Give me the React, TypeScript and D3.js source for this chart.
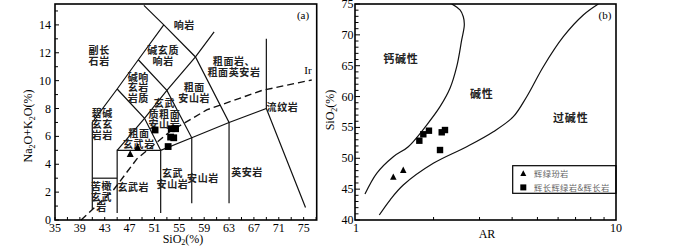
import React from "react";
import * as d3 from "d3";

// ---------- Panel (a): TAS diagram ----------
const tasXTicks = [35, 39, 43, 47, 51, 55, 59, 63, 67, 71, 75];
const tasYTicks = [0, 2, 4, 6, 8, 10, 12, 14];

// boundary polylines [SiO2, Na2O+K2O]
const tasBoundaries: [number, number][][] = [
  [[49.3, 15.4], [52.5, 14], [57.6, 11.7], [63, 7], [63, 1.2]],
  [[60.6, 13.5], [57.6, 11.7], [53, 9.3], [49.4, 7.3], [45, 5]],
  [[52.5, 14], [48.4, 11.5], [45, 9.4], [41, 7], [41, 0.75]],
  [[48.4, 11.5], [53, 9.3], [57, 5.9], [57, 1.2]],
  [[45, 9.4], [49.4, 7.3], [52, 5], [52, 0.5]],
  [[41, 3], [45, 3]],
  [[45, 0.5], [45, 5], [52, 5], [57, 5.9], [63, 7], [69, 8], [75.3, 0.9]],
  [[69, 8], [69, 13]],
];

const irvineLine: [number, number][] = [
  [39.2, 0], [44.4, 2.15], [48.2, 4.4], [53.5, 6.35], [59.4, 7.9], [68.3, 9.3], [76.3, 10.05],
];

const tasLabels: { text: string[]; x: number; y: number }[] = [
  { text: ["响岩"], x: 55.8, y: 13.98 },
  { text: ["副长", "石岩"], x: 42.1, y: 11.8 },
  { text: ["碱玄质", "响岩"], x: 52.4, y: 11.8 },
  { text: ["粗面岩、", "粗面英安岩"], x: 63.8, y: 10.98 },
  { text: ["碱响", "玄岩", "岩质"], x: 48.4, y: 9.5 },
  { text: ["粗面", "安山岩"], x: 57.4, y: 9.1 },
  { text: ["玄武", "质粗面", "安山岩"], x: 52.6, y: 7.6 },
  { text: ["碧碱", "玄玄", "岩岩"], x: 42.6, y: 6.85 },
  { text: ["流纹岩"], x: 71.6, y: 8.1 },
  { text: ["粗面", "玄武岩"], x: 48.5, y: 5.8 },
  { text: ["玄武岩"], x: 47.6, y: 2.35 },
  { text: ["玄武", "安山岩"], x: 53.9, y: 2.95 },
  { text: ["安山岩"], x: 58.8, y: 3.0 },
  { text: ["英安岩"], x: 65.9, y: 3.4 },
  { text: ["苦橄", "玄武", "岩"], x: 42.5, y: 1.65 },
];

const tasTriangles: [number, number][] = [[47.1, 4.75], [48.3, 5.22]];
const tasSquares: [number, number][] = [
  [51.1, 6.46], [53.2, 5.27], [53.6, 5.95], [54.1, 5.9], [53.7, 6.55], [54.4, 6.55],
];

// ---------- Panel (b): SiO2 vs AR ----------
const arYTicks = [40, 45, 50, 55, 60, 65, 70, 75];
const arCalcAlkLine: [number, number][] = [
  [1.092, 44.2], [1.211, 47.57], [1.402, 50.26], [1.6, 51.88], [1.882, 55.39], [2.117, 58.36],
  [2.312, 61.34], [2.453, 64.84], [2.563, 69.17], [2.623, 71.6], [2.6, 72.94], [2.525, 74.03],
  [2.347, 75.0],
];
const arPeralkLine: [number, number][] = [
  [1.239, 40.81], [1.362, 43.24], [1.531, 45.67], [1.995, 49.19], [2.679, 51.88], [3.388, 54.31],
  [4.042, 56.74], [4.548, 59.98], [5.266, 64.84], [6.283, 69.7], [7.494, 73.22], [8.557, 75.0],
];
const arLabels = [
  { text: "钙碱性", x: 1.5, y: 66.1 },
  { text: "碱性", x: 3.06, y: 60.4 },
  { text: "过碱性", x: 6.71, y: 56.5 },
];
const arTriangles: [number, number][] = [[1.402, 47.0], [1.531, 48.1]];
const arSquares: [number, number][] = [
  [1.764, 52.85], [1.827, 53.89], [1.92, 54.47], [2.117, 51.34], [2.149, 54.21], [2.212, 54.58],
];
const legendItems = ["辉绿玢岩", "辉长辉绿岩&辉长岩"];

const SERIF = "'Liberation Serif', 'DejaVu Serif', serif";
const CJK = "'Noto Sans CJK SC', sans-serif";

function tri(cx: number, cy: number, s: number) {
  const h = s * 0.9;
  return `M${cx},${cy - h / 2 - 0.5}L${cx + s / 2},${cy + h / 2}L${cx - s / 2},${cy + h / 2}Z`;
}

export default function App() {
  // panel a
  const xA = d3.scaleLinear([35, 77.1], [55, 316.7]);
  const yA = d3.scaleLinear([0, 15.5], [220, 4]);
  const lineA = d3.line<[number, number]>().x((d) => xA(d[0])).y((d) => yA(d[1]));
  const xMinorA = d3.range(35, 77.01, 2);
  const yMinorA = d3.range(0, 15.01, 1);

  // panel b
  const xB = d3.scaleLog([1, 10], [355, 616]);
  const yB = d3.scaleLinear([40, 75], [220, 4]);
  const lineB = d3
    .line<[number, number]>()
    .x((d) => xB(d[0]))
    .y((d) => yB(d[1]))
    .curve(d3.curveCatmullRom.alpha(0.5));
  const xMinorB = d3.range(2, 10, 1);
  const yMinorB = d3.range(40, 75.01, 1);

  return (
    <svg
      width={700}
      height={248}
      style={{ position: "absolute", left: 0, top: 0, background: "#fff" }}
    >
      {/* ---------- Panel (a) ---------- */}
      <g>
        {tasBoundaries.map((b, i) => (
          <path key={i} d={lineA(b) || ""} fill="none" stroke="#111" strokeWidth={1.2} />
        ))}
        <path
          d={lineA(irvineLine) || ""}
          fill="none"
          stroke="#111"
          strokeWidth={1.4}
          strokeDasharray="7,4"
        />
        <text x={xA(75.7)} y={yA(10.5)} fontFamily={SERIF} fontSize={11} textAnchor="middle">
          Ir
        </text>
        {tasLabels.map((l, i) => (
          <text
            key={i}
            fontFamily={CJK}
            fontSize={10}
            fontWeight={700}
            letterSpacing={0.6}
            textAnchor="middle"
            fill="#222"
          >
            {l.text.map((t, j) => (
              <tspan
                key={j}
                x={xA(l.x)}
                y={yA(l.y) + (j - (l.text.length - 1) / 2) * 10.7 + 3.6}
              >
                {t}
              </tspan>
            ))}
          </text>
        ))}
        {tasTriangles.map((p, i) => (
          <path key={i} d={tri(xA(p[0]), yA(p[1]), 7)} fill="#000" />
        ))}
        {tasSquares.map((p, i) => (
          <rect key={i} x={xA(p[0]) - 3.4} y={yA(p[1]) - 3.4} width={6.8} height={6.8} fill="#000" />
        ))}
        {/* ticks */}
        {xMinorA.map((v) => (
          <line key={v} x1={xA(v)} x2={xA(v)} y1={220} y2={217} stroke="#000" strokeWidth={1} />
        ))}
        {yMinorA.map((v) => (
          <line
            key={v}
            x1={55}
            x2={v % 2 === 0 ? 59 : 58}
            y1={yA(v)}
            y2={yA(v)}
            stroke="#000"
            strokeWidth={1}
          />
        ))}
        <rect x={55} y={4} width={261.7} height={216} fill="none" stroke="#000" strokeWidth={1.6} />
        {tasXTicks.map((v) => (
          <text key={v} x={xA(v)} y={232} fontFamily={SERIF} fontSize={12} textAnchor="middle">
            {v}
          </text>
        ))}
        {tasYTicks.map((v) => (
          <text key={v} x={51} y={yA(v) + 4} fontFamily={SERIF} fontSize={12} textAnchor="end">
            {v}
          </text>
        ))}
        <text x={183} y={243} fontFamily={SERIF} fontSize={12} textAnchor="middle">
          SiO<tspan fontSize={8} dy={2}>2</tspan>
          <tspan dy={-2}>(%)</tspan>
        </text>
        <text
          transform="translate(32,126) rotate(-90)"
          fontFamily={SERIF}
          fontSize={12}
          textAnchor="middle"
        >
          Na<tspan fontSize={8} dy={3}>2</tspan>
          <tspan dy={-3}>O+K</tspan>
          <tspan fontSize={8} dy={3}>2</tspan>
          <tspan dy={-3}>O(%)</tspan>
        </text>
        <text x={303} y={19} fontFamily={SERIF} fontSize={11} textAnchor="middle">
          (a)
        </text>
      </g>

      {/* ---------- Panel (b) ---------- */}
      <g>
        <clipPath id="clipB">
          <rect x={355} y={4} width={261} height={216} />
        </clipPath>
        <g clipPath="url(#clipB)">
          <path d={lineB(arCalcAlkLine) || ""} fill="none" stroke="#111" strokeWidth={1.2} />
          <path d={lineB(arPeralkLine) || ""} fill="none" stroke="#111" strokeWidth={1.2} />
        </g>
        {arLabels.map((l, i) => (
          <text
            key={i}
            x={xB(l.x)}
            y={yB(l.y) + 4}
            fontFamily={CJK}
            fontSize={11}
            fontWeight={700}
            letterSpacing={0.8}
            textAnchor="middle"
            fill="#222"
          >
            {l.text}
          </text>
        ))}
        {arTriangles.map((p, i) => (
          <path key={i} d={tri(xB(p[0]), yB(p[1]), 6.5)} fill="#000" />
        ))}
        {arSquares.map((p, i) => (
          <rect key={i} x={xB(p[0]) - 3.2} y={yB(p[1]) - 3.2} width={6.4} height={6.4} fill="#000" />
        ))}
        {/* legend */}
        <rect x={512.7} y={165.7} width={103.3} height={27.6} fill="#fff" stroke="#000" strokeWidth={1.2} />
        <path d={tri(523.3, 173.4, 6)} fill="#000" />
        <rect x={520.3} y={184.4} width={6} height={6} fill="#000" />
        {legendItems.map((t, i) => (
          <text
            key={i}
            x={534}
            y={176.5 + i * 14}
            fontFamily={CJK}
            fontSize={8.3}
            letterSpacing={0.4}
            fill="#666"
          >
            {t}
          </text>
        ))}
        {/* ticks */}
        {xMinorB.map((v) => (
          <line key={v} x1={xB(v)} x2={xB(v)} y1={220} y2={217} stroke="#000" strokeWidth={1} />
        ))}
        {yMinorB.map((v) => (
          <line
            key={v}
            x1={355}
            x2={v % 5 === 0 ? 360 : 358.5}
            y1={yB(v)}
            y2={yB(v)}
            stroke="#000"
            strokeWidth={1}
          />
        ))}
        <rect x={355} y={4} width={261} height={216} fill="none" stroke="#000" strokeWidth={1.6} />
        {arYTicks.map((v) => (
          <text key={v} x={353.5} y={yB(v) + 4} fontFamily={SERIF} fontSize={12} textAnchor="end">
            {v}
          </text>
        ))}
        <text x={356} y={232} fontFamily={SERIF} fontSize={12} textAnchor="middle">
          1
        </text>
        <text x={616} y={232} fontFamily={SERIF} fontSize={12} textAnchor="middle">
          10
        </text>
        <text x={487} y={238} fontFamily={SERIF} fontSize={12} textAnchor="middle">
          AR
        </text>
        <text
          transform="translate(334,110) rotate(-90)"
          fontFamily={SERIF}
          fontSize={12}
          textAnchor="middle"
        >
          SiO<tspan fontSize={8} dy={3}>2</tspan>
          <tspan dy={-3}>(%)</tspan>
        </text>
        <text x={605} y={19} fontFamily={SERIF} fontSize={11} textAnchor="middle">
          (b)
        </text>
      </g>
    </svg>
  );
}
